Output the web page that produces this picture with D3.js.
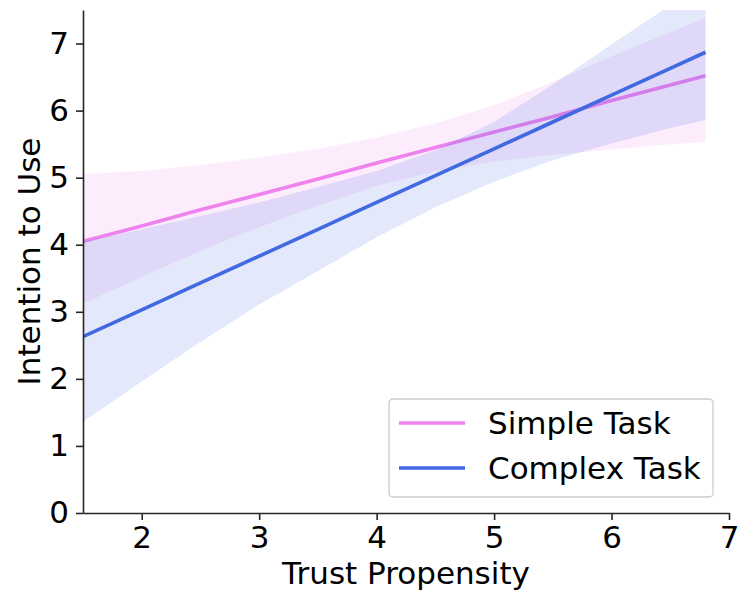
<!DOCTYPE html>
<html>
<head>
<meta charset="utf-8">
<script src="https://cdn.jsdelivr.net/npm/d3@7"></script>
<style>
  body { margin: 0; background: #fff; }
  text { font-family: "DejaVu Sans", sans-serif; fill: #000; }
</style>
</head>
<body>
<div id="chart"></div>
<script>
const xGrid = [1.5, 2, 2.5, 3, 3.5, 4, 4.5, 5, 5.5, 6, 6.5, 6.8];

// Simple Task regression + CI band
const simpleFit = [4.05, 4.28, 4.52, 4.75, 4.98, 5.22, 5.45, 5.68, 5.91, 6.15, 6.38, 6.52];
const simpleLo  = [3.12, 3.52, 3.91, 4.26, 4.58, 4.88, 5.09, 5.24, 5.34, 5.42, 5.50, 5.53];
const simpleHi  = [5.05, 5.10, 5.19, 5.30, 5.43, 5.60, 5.81, 6.08, 6.43, 6.81, 7.17, 7.39];

// Complex Task regression + CI band
const complexFit = [2.63, 3.03, 3.43, 3.83, 4.23, 4.63, 5.03, 5.43, 5.83, 6.23, 6.63, 6.87];
const complexLo  = [1.36, 1.96, 2.55, 3.11, 3.61, 4.11, 4.56, 4.94, 5.26, 5.51, 5.74, 5.86];
const complexHi  = [4.05, 4.23, 4.43, 4.63, 4.86, 5.10, 5.41, 5.83, 6.39, 6.99, 7.57, 7.92];

const seriesNames = ["Simple Task", "Complex Task"];
const xTicks = [2, 3, 4, 5, 6, 7];
const yTicks = [0, 1, 2, 3, 4, 5, 6, 7];

const MARGIN = {TOP: 10, BOTTOM: 78, LEFT: 83, RIGHT: 10};
const W = 739, H = 591;
const WIDTH = W - MARGIN.LEFT - MARGIN.RIGHT;
const HEIGHT = H - MARGIN.TOP - MARGIN.BOTTOM;
const FONT = 31;

const svg = d3.select("#chart").append("svg")
    .attr("width", W).attr("height", H);
const g = svg.append("g")
    .attr("transform", `translate(${MARGIN.LEFT},${MARGIN.TOP})`);

const x = d3.scaleLinear().domain([1.5, 7]).range([0, WIDTH]);
const y = d3.scaleLinear().domain([0, 7.5]).range([HEIGHT, 0]);

svg.append("defs").append("clipPath").attr("id", "plotclip")
  .append("rect").attr("width", WIDTH).attr("height", HEIGHT);

const plot = g.append("g").attr("clip-path", "url(#plotclip)");

const series = [
  {name: seriesNames[0], color: "#ee82ee", fit: simpleFit, lo: simpleLo, hi: simpleHi},
  {name: seriesNames[1], color: "#4169e1", fit: complexFit, lo: complexLo, hi: complexHi}
];

const area = d3.area()
    .x(d => x(d.x)).y0(d => y(d.lo)).y1(d => y(d.hi));
const line = d3.line()
    .x(d => x(d.x)).y(d => y(d.v));

series.forEach(s => {
  const rows = xGrid.map((xv, i) => ({x: xv, v: s.fit[i], lo: s.lo[i], hi: s.hi[i]}));
  plot.append("path").datum(rows)
      .attr("d", area)
      .attr("fill", s.color)
      .attr("fill-opacity", 0.15);
  plot.append("path").datum(rows)
      .attr("d", line)
      .attr("fill", "none")
      .attr("stroke", s.color)
      .attr("stroke-width", 3.6);
});

// axes
const xAxis = g.append("g")
    .attr("transform", `translate(0,${HEIGHT})`)
    .call(d3.axisBottom(x).tickValues(xTicks).tickFormat(d3.format("d"))
        .tickSize(7).tickSizeOuter(0).tickPadding(6));
const yAxis = g.append("g")
    .call(d3.axisLeft(y).tickValues(yTicks).tickFormat(d3.format("d"))
        .tickSize(7).tickSizeOuter(0).tickPadding(7));

[xAxis, yAxis].forEach(a => {
  a.select(".domain").attr("stroke", "#262626").attr("stroke-width", 1.6);
  a.selectAll(".tick line").attr("stroke", "#262626").attr("stroke-width", 1.6);
  a.selectAll(".tick text")
      .attr("font-family", "DejaVu Sans")
      .attr("font-size", FONT)
      .attr("fill", "#000");
});

// axis labels
g.append("text")
    .attr("x", WIDTH / 2)
    .attr("y", HEIGHT + 71)
    .attr("text-anchor", "middle")
    .attr("font-size", FONT)
    .text("Trust Propensity");

g.append("text")
    .attr("transform", `translate(${-MARGIN.LEFT + 40},${HEIGHT / 2}) rotate(-90)`)
    .attr("text-anchor", "middle")
    .attr("font-size", FONT)
    .text("Intention to Use");

// legend
const legend = g.append("g")
    .attr("transform", `translate(${389 - MARGIN.LEFT},${399 - MARGIN.TOP})`);
legend.append("rect")
    .attr("width", 324).attr("height", 98)
    .attr("rx", 4)
    .attr("fill", "#fff").attr("fill-opacity", 0.8)
    .attr("stroke", "#cccccc").attr("stroke-width", 1.3);
series.forEach((s, i) => {
  const row = legend.append("g").attr("transform", `translate(0,${24 + i * 45})`);
  row.append("line")
      .attr("x1", 10).attr("x2", 76)
      .attr("stroke", s.color).attr("stroke-width", 3.6);
  row.append("text")
      .attr("x", 99).attr("dy", "0.35em")
      .attr("font-size", FONT)
      .text(s.name);
});
</script>
</body>
</html>
